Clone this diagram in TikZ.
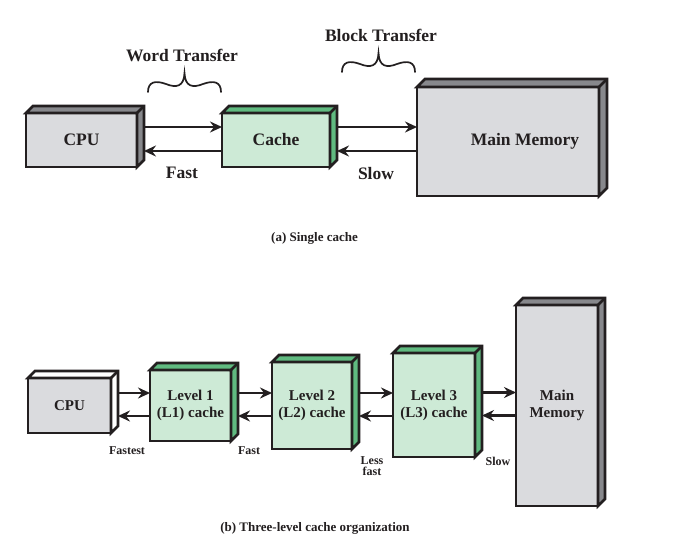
\documentclass[tikz,border=0pt]{standalone}
\usepackage{fontspec}
\setmainfont{Liberation Serif}
\usetikzlibrary{arrows.meta}
\definecolor{grayfront}{RGB}{218,219,222}
\definecolor{grayside}{RGB}{135,136,140}
\definecolor{greenfront}{RGB}{205,234,214}
\definecolor{greenside}{RGB}{96,186,128}
\definecolor{ink}{RGB}{35,31,32}
\newcommand\boxfont{\fontsize{17.5}{19}\selectfont\bfseries}
% #1 name, #2 cx, #3 cy, #4 w, #5 h, #6 depth, #7 front, #8 side, #9 text
\newcommand\boxthree[9]{%
  \node[blk, font=\boxfont, fill=#7, minimum width=#4pt, minimum height=#5pt] (#1) at (#2,#3) {#9};
  \filldraw[blk, fill=#8] (#1.north west) -- ++(#6,-#6) -- ([shift={(#6,-#6)}]#1.north east)
     -- ([shift={(#6,-#6)}]#1.south east) -- (#1.south east) -- (#1.north east) -- cycle;
  \draw[blk] (#1.north east) -- ++(#6,-#6);
}
\newcommand\curly[2]{%
  \draw[ink, line width=1.7pt, line cap=round, shift={(#1,#2)}]
    (0,0) .. controls (0,-10) and (7,-12) .. (18,-8)
          .. controls (28,-4) and (36,-5) .. (36.5,-19)
          .. controls (37,-5) and (45,-4) .. (55,-8)
          .. controls (66,-12) and (73,-10) .. (73,0);
}
\begin{document}
\begin{tikzpicture}[x=1pt, y=-1pt,
  blk/.style={draw=ink, line width=2.6pt, line join=miter, outer sep=0pt, inner sep=0pt, text=ink, align=center},
  arr/.style={draw=ink, line width=2.5pt, -{Stealth[length=12pt,width=11pt,inset=4pt]}},
  big/.style={font=\fontsize{17.5}{19}\selectfont\bfseries, text=ink},
  small/.style={font=\fontsize{12}{11}\selectfont\bfseries, text=ink, align=center},
  captext/.style={font=\fontsize{13}{15}\selectfont\bfseries, text=ink}]
\fill[white] (0,0) rectangle (682,544);
\useasboundingbox (0,0) rectangle (682,544);

% ---------- (a) Single cache ----------
\boxthree{cpuA}{81.5}{140}{111}{54}{7}{grayfront}{grayside}{CPU}
\boxthree{cacheA}{276}{140}{108}{54}{7}{greenfront}{greenside}{Cache}
\boxthree{memA}{508}{141.5}{182}{109}{8}{grayfront}{grayside}{\hspace*{34pt}Main Memory}

\coordinate (a1) at ([shift={(7,-13)}]cpuA.east);
\coordinate (a2) at ([shift={(7,11)}]cpuA.east);
\draw[arr] (a1) -- (a1 -| cacheA.west);
\draw[arr] (a2 -| cacheA.west) -- (a2);
\coordinate (b1) at ([shift={(7,-13)}]cacheA.east);
\coordinate (b2) at ([shift={(7,11)}]cacheA.east);
\draw[arr] (b1) -- (b1 -| memA.west);
\draw[arr] (b2 -| memA.west) -- (b2);

\node[big] (fastA) at (182,173) {Fast};
\node[big] (slowA) at (376,174) {Slow};
\node[big] (word) at (182,55) {Word Transfer};
\node[big] (block) at (381,35) {Block Transfer};
\curly{148}{92}
\curly{342}{72}
\node[captext] (capA) at (314.5,238) {(a) Single cache};

% ---------- (b) Three-level cache ----------
\renewcommand\boxfont{\fontsize{15}{17}\selectfont\bfseries}
\boxthree{cpuB}{69.5}{405.5}{83}{55}{7}{grayfront}{white}{CPU}
\boxthree{l1}{190.5}{405.5}{81}{71}{7}{greenfront}{greenside}{Level 1\\(L1) cache}
\boxthree{l2}{312}{405.5}{80}{87}{7}{greenfront}{greenside}{Level 2\\(L2) cache}
\boxthree{l3}{434}{405}{82}{104}{7}{greenfront}{greenside}{Level 3\\(L3) cache}
\boxthree{memB}{557}{405.5}{82}{201}{7}{grayfront}{grayside}{Main\\Memory}

\foreach \s/\t in {cpuB/l1,l1/l2,l2/l3,l3/memB}{
  \coordinate (u) at ([shift={(7,-12.5)}]\s.east);
  \coordinate (v) at ([shift={(7,10.5)}]\s.east);
  \draw[arr] (u) -- (u -| \t.west);
  \draw[arr] (v -| \t.west) -- (v);
}

\node[small] (fastest) at (127,451) {Fastest};
\node[small] (fastB) at (249,451) {Fast};
\node[small] (lessfast) at (372,466) {Less\\fast};
\node[small] (slowB) at (498,461) {Slow};
\node[captext] (capB) at (315,528) {(b) Three-level cache organization};
\end{tikzpicture}
\end{document}
